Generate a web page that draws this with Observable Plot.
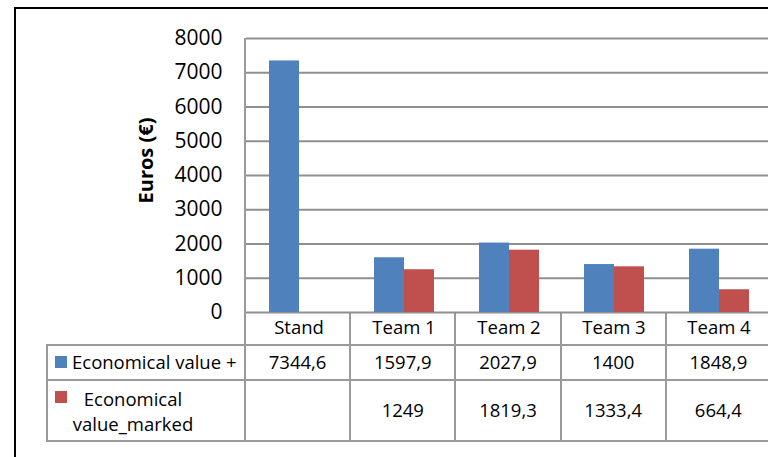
<!DOCTYPE html>
<html><head><meta charset="utf-8">
<script src="https://cdn.jsdelivr.net/npm/d3@7"></script>
<script src="https://cdn.jsdelivr.net/npm/@observablehq/plot@0.6"></script>
<style>
html,body{margin:0;padding:0;background:#fff;width:768px;height:457px;overflow:hidden;font-family:"Open Sans",sans-serif;color:#000}
#wrap{position:relative;width:768px;height:457px;overflow:hidden}
#frame{position:absolute;left:14px;top:7px;width:900px;height:600px;border:2px solid #000;box-sizing:border-box}
#chart{position:absolute;left:0;top:0;z-index:2}
#chart svg{max-width:none!important;background:transparent!important;overflow:visible}
.ln{position:absolute;background:#9a9a9a}
.cell{position:absolute;display:flex;align-items:center;justify-content:center;font-size:18.5px;color:#000;line-height:1;white-space:nowrap}
.key{position:absolute;width:12px;height:12px}
</style></head>
<body><div id="wrap"><div id="frame"></div><div id="table"></div><div id="chart"></div></div>
<script>
const categories = ["Stand", "Team 1", "Team 2", "Team 3", "Team 4"];
const seriesNames = ["Economical value +", "Economical value_marked"];
const valuesPlus = [7344.6, 1597.9, 2027.9, 1400, 1848.9];
const valuesMarked = [null, 1249, 1819.3, 1333.4, 664.4];
const yTicks = [0, 1000, 2000, 3000, 4000, 5000, 6000, 7000, 8000];
const colors = ["#4F81BD", "#C0504D"];
const yLabel = "Euros (€)";

const seriesValues = [valuesPlus, valuesMarked];
const data = [];
categories.forEach((c, i) => {
  seriesNames.forEach((s, j) => {
    const v = seriesValues[j][i];
    if (v != null) data.push({cat: c, series: s, value: v});
  });
});

const W = 775, H = 345, ML = 245, MR = 4, MT = 38, MB = 33;
const plot = Plot.plot({
  width: W, height: H,
  marginLeft: ML, marginRight: MR, marginTop: MT, marginBottom: MB,
  style: {fontFamily: "Open Sans", background: "transparent", color: "#000"},
  fx: {domain: categories, padding: 0, label: null},
  x: {domain: seriesNames, paddingInner: 0, paddingOuter: 0.75, axis: null},
  y: {domain: [0, 8000], axis: null},
  color: {domain: seriesNames, range: colors},
  marks: [
    Plot.ruleY(yTicks, {stroke: "#8f8f8f", strokeWidth: 2}),
    Plot.barY(data, {fx: "cat", x: "series", y: "value", fill: "series"}),
    Plot.axisY(yTicks, {anchor: "left", tickSize: 0, tickPadding: 24, fontSize: 21, label: null, tickFormat: d => String(d)}),
    Plot.text([yLabel], {fx: [categories[0]], text: d => d, frameAnchor: "left", textAnchor: "middle", lineAnchor: "middle", rotate: -90, dx: -100, dy: -15, fontSize: 20, fontWeight: "bold", fill: "#000"}),
    Plot.axisFx({anchor: "bottom", tickSize: 0, tickPadding: 8, fontSize: 18.5, label: null})
  ]
});
document.getElementById("chart").appendChild(plot);

// data table below the chart
const fx = d3.scaleBand().domain(categories).range([ML, W - MR]).padding(0);
const table = document.getElementById("table");
const tLeft = 47, yZero = H - MB, r1 = 345, r2 = 380, r3 = 441, xRight = W - MR;
function line(x, y, w, h) {
  const d = document.createElement("div");
  d.className = "ln";
  Object.assign(d.style, {left: x + "px", top: y + "px", width: w + "px", height: h + "px"});
  table.appendChild(d);
}
function cell(x, y, w, h, html, extra) {
  const d = document.createElement("div");
  d.className = "cell";
  Object.assign(d.style, {left: x + "px", top: y + "px", width: w + "px", height: h + "px"}, extra || {});
  d.innerHTML = html;
  table.appendChild(d);
  return d;
}
// horizontal lines
[r1, r2, r3].forEach(y => line(tLeft - 1, y - 1, xRight - tLeft + 2, 2));
// vertical lines
line(tLeft - 1, r1 - 1, 2, r3 - r1 + 2);
line(ML - 1, MT, 2, r3 - MT + 1);
categories.forEach(c => line(fx(c) + fx.bandwidth() - 1, yZero, 2, r3 - yZero + 1));

// row labels with legend keys
const fmt = v => v == null ? "" : String(v).replace(".", ",");
const key1 = document.createElement("div"); key1.className = "key";
Object.assign(key1.style, {left: "55px", top: "356px", background: colors[0]}); table.appendChild(key1);
const key2 = document.createElement("div"); key2.className = "key";
Object.assign(key2.style, {left: "55px", top: "391px", background: colors[1]}); table.appendChild(key2);
cell(72, r1, 175, r2 - r1, seriesNames[0], {justifyContent: "flex-start"});
const nameParts = seriesNames[1].split(" ");
cell(72, r2, 122, r3 - r2, nameParts[0] + "<br>" + nameParts.slice(1).join(" "), {textAlign: "center", lineHeight: "25px"});
// values
categories.forEach((c, i) => {
  cell(fx(c), r1, fx.bandwidth(), r2 - r1, fmt(valuesPlus[i]));
  cell(fx(c), r2, fx.bandwidth(), r3 - r2, fmt(valuesMarked[i]));
});
</script></body></html>
